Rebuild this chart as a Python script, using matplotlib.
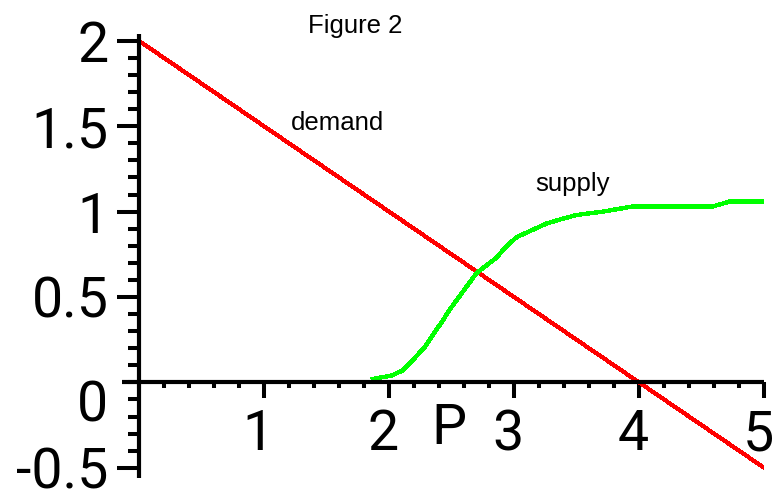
import matplotlib
matplotlib.use("Agg")
import matplotlib.pyplot as plt
from matplotlib.ticker import MultipleLocator, FixedLocator
from matplotlib.transforms import ScaledTranslation

# demand: straight line
demand_x = [0.0, 5.0]
demand_y = [2.0, -0.5]

# supply
supply_x = [1.87, 2.02, 2.11, 2.19, 2.29, 2.37, 2.43, 2.47, 2.55, 2.62, 2.70,
            2.77, 2.86, 2.93, 3.02, 3.11, 3.26, 3.35, 3.50, 3.71, 3.95, 4.59,
            4.73, 4.98]
supply_y = [0.02, 0.04, 0.07, 0.13, 0.21, 0.30, 0.36, 0.41, 0.49, 0.56, 0.64,
            0.68, 0.73, 0.79, 0.85, 0.88, 0.93, 0.95, 0.98, 1.00, 1.03, 1.03,
            1.06, 1.06]

x_ticks = [1, 2, 3, 4, 5]
x_labels = ["1", "2", "3", "4", "5"]
y_ticks = [-0.5, 0.5, 1, 1.5, 2]
y_labels = ["-0.5", "0.5", "1", "1.5", "2"]

plt.rcParams["font.family"] = ["Liberation Sans", "DejaVu Sans"]
big = dict(family="Roboto", weight="normal", size=40)

W, H = 774, 501
fig = plt.figure(figsize=(W / 100, H / 100), dpi=100)

# x: 0 -> px 139, 5 -> px 764 ; y: -0.56 -> px 478, 2.04 -> px 34
ax = fig.add_axes([139 / W, (H - 478) / H, 625 / W, 444 / H])
ax.set_xlim(0, 5)
ax.set_ylim(-0.56, 2.04)

for s in ["top", "right"]:
    ax.spines[s].set_visible(False)
ax.spines["bottom"].set_position(("data", 0))
ax.spines["left"].set_position(("data", 0))
for s in ["left", "bottom"]:
    ax.spines[s].set_linewidth(3)
    ax.spines[s].set_capstyle("butt")
ax.spines["bottom"].set_bounds(-0.14, 5)

ax.plot(demand_x, demand_y, color="#ff0000", lw=2.2, antialiased=False)
ax.plot(supply_x, supply_y, color="#00ff00", lw=2.4, antialiased=False)

ax.xaxis.set_major_locator(FixedLocator(x_ticks))
ax.set_xticklabels(x_labels, fontdict=big)
ax.xaxis.set_minor_locator(MultipleLocator(0.2))
ax.yaxis.set_major_locator(FixedLocator(y_ticks))
ax.set_yticklabels(y_labels, fontdict=big)
ax.yaxis.set_minor_locator(MultipleLocator(0.1))

ax.tick_params(axis="x", which="major", direction="out", length=11.5, width=2.9,
               pad=7)
ax.tick_params(axis="x", which="minor", direction="out", length=4, width=2.9)
ax.tick_params(axis="y", which="major", direction="out", length=16, width=2.9,
               pad=6)
ax.tick_params(axis="y", which="minor", direction="out", length=8, width=2.9)

# x labels sit a little left of their ticks
shift = ScaledTranslation(-6 / 100, 0, fig.dpi_scale_trans)
for lab in ax.get_xticklabels():
    lab.set_transform(lab.get_transform() + shift)

# zero label sits below the axis, P on the x label row
ax.text(-0.25, -0.14, "0", ha="right", va="center", **big)
ax.text(2.48, -0.27, "P", ha="center", va="center", **big)

ax.text(1.216, 1.475, "demand", fontsize=18.5, ha="left", va="baseline")
ax.text(3.168, 1.118, "supply", fontsize=18.5, ha="left", va="baseline")
fig.text(308 / W, 1 - 33 / H, "Figure 2", fontsize=18.5, ha="left", va="baseline")

fig.savefig("out.png", dpi=100)
